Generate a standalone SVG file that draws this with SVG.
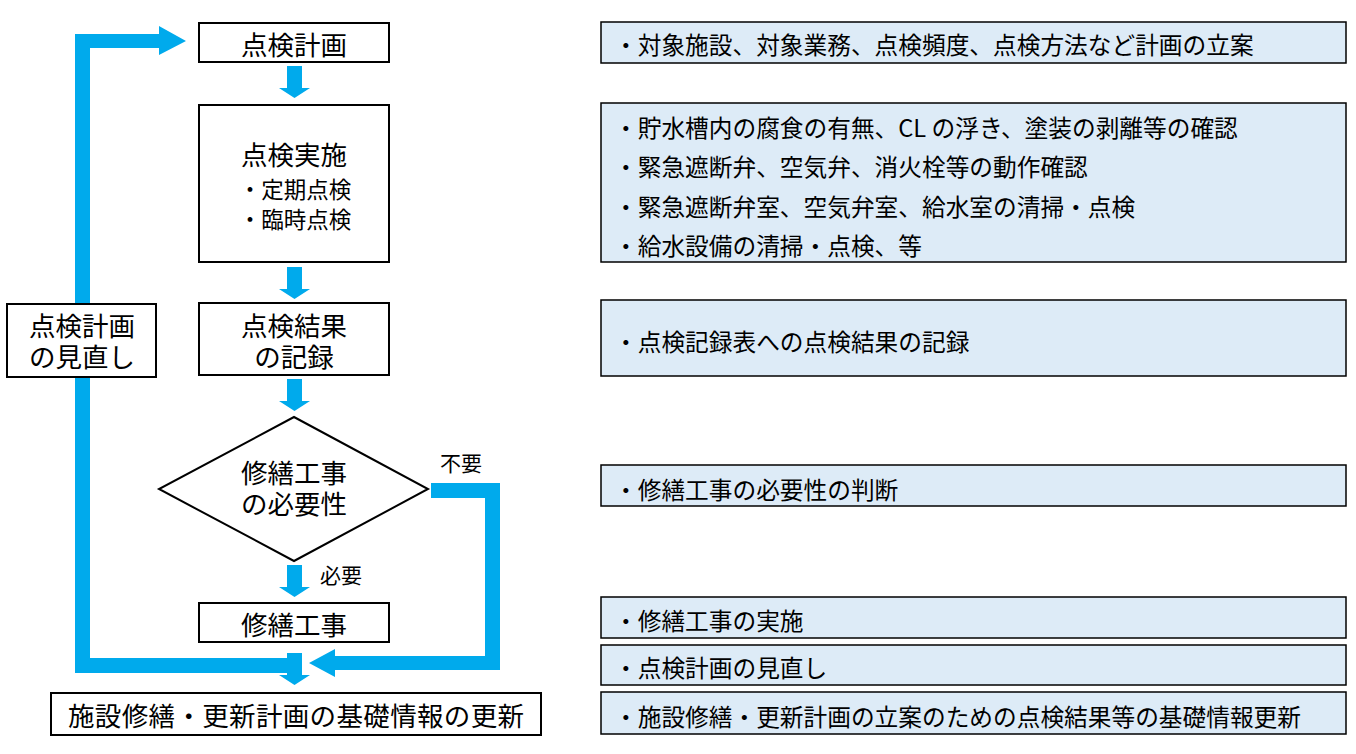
<svg xmlns="http://www.w3.org/2000/svg" width="1356" height="754" viewBox="0 0 1356 754">
<defs>
<style>
.box{fill:#fff;stroke:#000;stroke-width:2}
.note{fill:#DDEBF7;stroke:#000;stroke-width:1.5}
.flow{fill:#00AAEC;stroke:none}
text{font-family:"Noto Sans CJK JP","Noto Sans",sans-serif;fill:#000;dominant-baseline:central}
.lbl{font-size:26.5px;text-anchor:middle}
.sub{font-size:22.5px;text-anchor:middle}
.tag{font-size:21px}
.nt{font-size:23.7px}
</style>
<path id="down" d="M-7.5,0 H7.5 V22 H15.5 L0,32 L-15.5,22 H-7.5 Z"/>
</defs>
<rect width="1356" height="754" fill="#fff"/>

<g id="connectors" class="flow">
<use href="#down" x="294.5" y="66"/>
<use href="#down" x="294.5" y="267"/>
<use href="#down" x="294.5" y="379"/>
<use href="#down" x="294.5" y="565"/>
<use href="#down" x="294.5" y="653"/>
<path id="loop" d="M287,658 H90 V48 H159 V55 L186,41 L159,26 V34 H75 V673 H287 Z"/>
<path id="skip" d="M431,483 H500 V670 H335 V677 L309,663 L335,649 V656 H485 V498 H431 Z"/>
</g>

<g id="n-plan"><rect class="box" x="199" y="23" width="190" height="39"/><text class="lbl" x="294" y="43">点検計画</text></g>
<g id="n-exec"><rect class="box" x="199" y="105" width="190" height="157"/>
<text class="lbl" x="294" y="153">点検実施</text>
<text class="sub" x="295" y="188"><tspan x="295" y="188">・定期点検</tspan><tspan x="295" y="218">・臨時点検</tspan></text></g>
<g id="n-record"><rect class="box" x="199" y="303" width="190" height="72"/>
<text class="lbl"><tspan x="294" y="324">点検結果</tspan><tspan x="294" y="355">の記録</tspan></text></g>
<g id="n-review"><rect class="box" x="7" y="304" width="149" height="73"/>
<text class="lbl"><tspan x="82" y="324">点検計画</tspan><tspan x="82" y="355">の見直し</tspan></text></g>
<g id="n-decision"><polygon points="294,417 428,489 294,561 159,489" fill="#fff" stroke="#000" stroke-width="2"/>
<text class="lbl"><tspan x="294" y="471">修繕工事</tspan><tspan x="294" y="502">の必要性</tspan></text></g>
<g id="l-no"><text class="tag" x="440" y="462">不要</text></g>
<g id="l-yes"><text class="tag" x="320" y="574">必要</text></g>
<g id="n-repair"><rect class="box" x="199" y="603" width="190" height="39"/><text class="lbl" x="294" y="623">修繕工事</text></g>
<g id="n-update"><rect class="box" x="51" y="693" width="490" height="42"/><text class="lbl" x="296" y="714" textLength="456" lengthAdjust="spacing">施設修繕・更新計画の基礎情報の更新</text></g>

<g id="notes">
<g id="note1"><rect class="note" x="601" y="22" width="745" height="41"/><text class="nt" x="614" y="44">・対象施設、対象業務、点検頻度、点検方法など計画の立案</text></g>
<g id="note2"><rect class="note" x="601" y="103" width="745" height="159"/>
<text class="nt"><tspan x="614" y="127">・貯水槽内の腐食の有無、CL の浮き、塗装の剥離等の確認</tspan><tspan x="614" y="166">・緊急遮断弁、空気弁、消火栓等の動作確認</tspan><tspan x="614" y="206">・緊急遮断弁室、空気弁室、給水室の清掃・点検</tspan><tspan x="614" y="245">・給水設備の清掃・点検、等</tspan></text></g>
<g id="note3"><rect class="note" x="601" y="300" width="745" height="76"/><text class="nt" x="614" y="341">・点検記録表への点検結果の記録</text></g>
<g id="note4"><rect class="note" x="601" y="465" width="745" height="41"/><text class="nt" x="614" y="489">・修繕工事の必要性の判断</text></g>
<g id="note5"><rect class="note" x="601" y="597" width="745" height="41"/><text class="nt" x="614" y="620">・修繕工事の実施</text></g>
<g id="note6"><rect class="note" x="601" y="645" width="745" height="40"/><text class="nt" x="614" y="667">・点検計画の見直し</text></g>
<g id="note7"><rect class="note" x="601" y="692" width="745" height="42"/><text class="nt" x="614" y="716">・施設修繕・更新計画の立案のための点検結果等の基礎情報更新</text></g>
</g>
</svg>
